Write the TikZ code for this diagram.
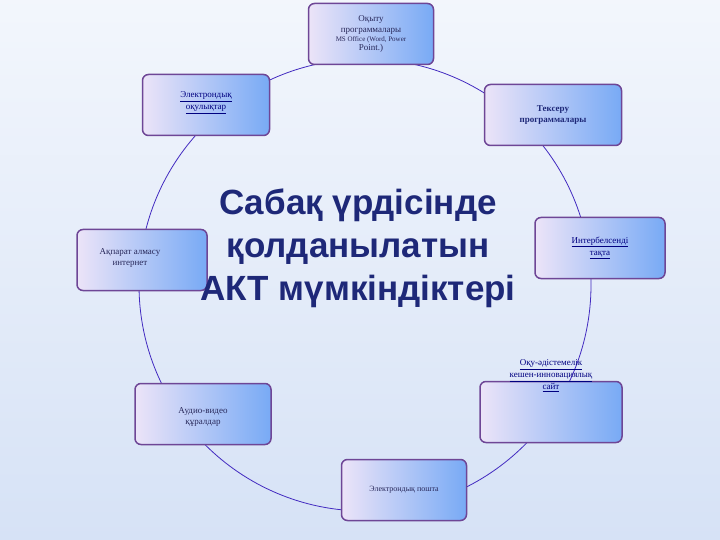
\documentclass[tikz,border=0pt]{standalone}
\usepackage{fontspec}
\setmainfont{Liberation Serif}
\newfontfamily\titlefont{Liberation Sans}
\definecolor{bgc}{RGB}{214,226,246}
\definecolor{edge}{RGB}{110,70,150}
\definecolor{boxl}{RGB}{236,228,248}
\definecolor{boxr}{RGB}{120,170,245}
\definecolor{txt}{RGB}{40,40,90}
\definecolor{ttl}{RGB}{30,40,120}
\tikzset{
 box/.style={draw=edge,line width=1.5pt,rounded corners=6pt,left color=boxl,right color=boxr,minimum width=#1,minimum height=61pt},
 box/.default=125pt,
 lbl/.style={text=txt,font=\small,align=center},
}
\begin{document}
\begin{tikzpicture}[x=1pt,y=-1pt]
\useasboundingbox[top color=white!70!bgc,bottom color=bgc] (0,0) rectangle (720,540);
\draw[draw=edge!60!blue,line width=0.8pt] (365,285) circle (226);
\node[box] (a) at (371,34) {};
\node[lbl] (at) at (371,34) {Оқыту\\программалары\\[-2pt]{\scriptsize MS Office (Word, Power}\\[-2pt]Point.)};
\node[box=127pt] (b) at (206,105) {};
\node[lbl,text=blue!50!black,anchor=north] (bt) at (206,88) {\underline{Электрондық}\\[1pt]\underline{оқулықтар}};
\node[box=137pt] (c) at (553,115) {};
\node[lbl,text=ttl,font=\small\bfseries] (ct) at (553,115) {Тексеру\\программалары};
\node[box=130pt] (d) at (142,260) {};
\node[lbl] (dt) at (130,258) {Ақпарат алмасу\\интернет};
\node[box=130pt] (e) at (600,248) {};
\node[lbl,text=blue!50!black] (et) at (600,248) {\underline{Интербелсенді}\\[1pt]\underline{тақта}};
\node[box=142pt] (f) at (551,412) {};
\node[lbl,text=blue!50!black] (ft) at (551,376) {\underline{Оқу-әдістемелік}\\[1pt]\underline{кешен-инновациялық}\\[1pt]\underline{сайт}};
\node[box=136pt] (g) at (203,414) {};
\node[lbl] (gt) at (203,417) {Аудио-видео\\құралдар};
\node[box=125pt] (h) at (404,490) {};
\node[lbl,font=\footnotesize] (ht) at (404,490) {Электрондық пошта};
\node[text=ttl,font=\titlefont\bfseries\fontsize{35}{43}\selectfont,align=center] (t) at (358,248) {Сабақ үрдісінде\\қолданылатын\\АКТ мүмкіндіктері};
\end{tikzpicture}
\end{document}
